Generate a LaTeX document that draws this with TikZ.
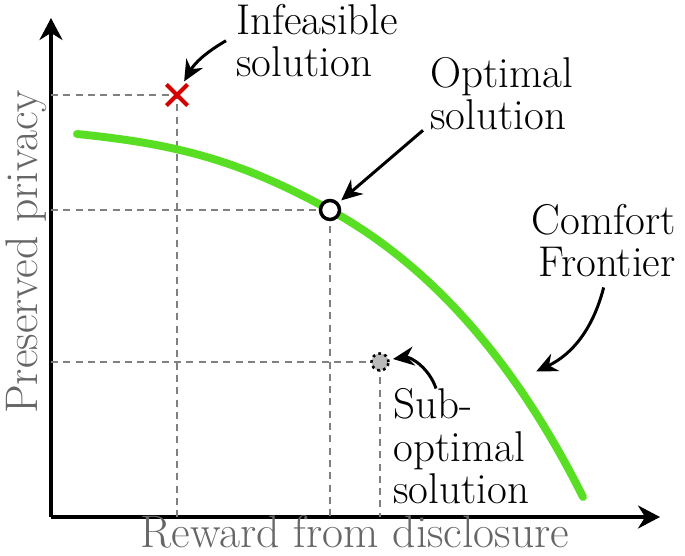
\documentclass[tikz,border=0pt]{standalone}
\usepackage{tikz}
\usetikzlibrary{arrows.meta, positioning, shapes.misc}
\usepackage{xcolor}
\definecolor{frontgreen}{RGB}{88,222,34}
\definecolor{infred}{RGB}{212,0,0}

\begin{document}
\begin{tikzpicture}[
    axis/.style={-{Stealth[length=4.4mm, width=4.6mm]}, line width=2pt},
    guide/.style={black!50, dash pattern=on 4pt off 3pt, line width=0.8pt},
    callout/.style={-{Stealth[length=4.2mm, width=3.8mm]}, line width=1.7pt, shorten >=2pt},
    frontier/.style={frontgreen, line width=4.5pt, line cap=round},
    lbl/.style={inner sep=0pt, align=left, font=\fontsize{24.5}{24}\selectfont},
    axlabel/.style={text=black!60, inner sep=0pt, font=\fontsize{26}{27}\selectfont}
]
\useasboundingbox (0,0) rectangle (13.7,11.1);

% Axes
\coordinate (o) at (1.02,0.76);
\coordinate (ytop) at (1.02,10.74);
\coordinate (xend) at (13.2,0.76);
\draw[axis] (o) -- (ytop);
\draw[axis] (o) -- (xend);

% Solution points
\coordinate (pinf) at (3.54,9.2);
\coordinate (popt) at (6.6,6.9);
\coordinate (psub) at (7.6,3.86);
\coordinate (front) at (10.66,3.64);

% Guide lines
\draw[guide] (o |- pinf) -- (pinf) -- (pinf |- o);
\draw[guide] (o |- popt) -- (popt) -- (popt |- o);
\draw[guide] (o |- psub) -- (psub) -- (psub |- o);

% Comfort frontier
\draw[frontier] (1.54,8.42) .. controls (3.54,8.22) and (4.8,7.89) .. (popt)
    .. controls (8.4,5.91) and (10.16,4.16) .. (11.66,1.16);

\node[draw=infred, cross out, line width=2.3pt, minimum size=0.34cm, inner sep=0pt] (infeas) at (pinf) {};
\node[circle, draw, fill=white, line width=2pt, minimum size=0.38cm, inner sep=0pt] (optimal) at (popt) {};
\node[circle, draw, dotted, fill=black!27, line width=1.5pt, minimum size=0.34cm, inner sep=0pt] (subopt) at (psub) {};

% Labels
\node[lbl, anchor=north west] (inflbl) at (4.72,11.02) {Infeasible\\solution};
\node[lbl, anchor=north west] (optlbl) at (8.6,9.96) {Optimal\\solution};
\node[lbl, anchor=north east, align=right] (frontlbl) at (13.52,7.02) {Comfort\\Frontier};
\node[lbl, anchor=north west] (sublbl) at (7.86,3.33) {Sub-\\optimal\\solution};

\node[axlabel, anchor=base] (xlbl) at (7.1,0.15) {Reward from disclosure};
\node[axlabel, anchor=base, rotate=90] (ylbl) at (0.74,6.06) {Preserved privacy};

% Callouts
\draw[callout] ([xshift=-2mm]inflbl.west) to[bend right=15] (infeas);
\draw[callout] ([xshift=-1.4mm]optlbl.south west) -- (optimal);
\draw[callout] ([yshift=-2mm]frontlbl.south) to[bend left=25] (front);
\draw[callout] ([xshift=8.6mm]sublbl.north west) to[bend right=40] (subopt);

\end{tikzpicture}
\end{document}
